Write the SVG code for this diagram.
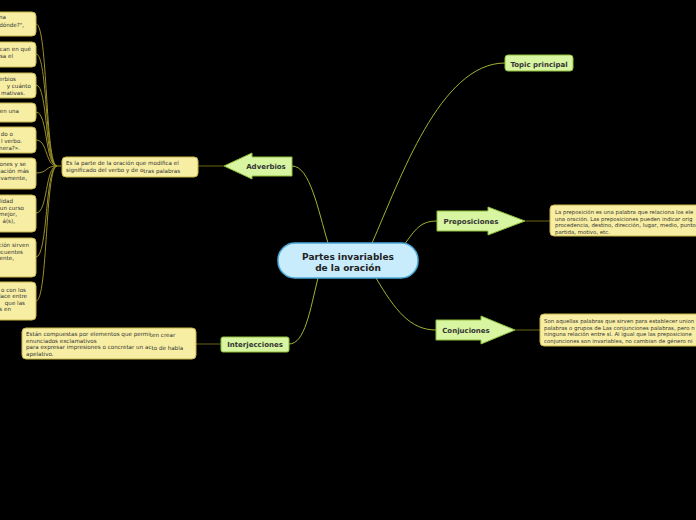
<svg xmlns="http://www.w3.org/2000/svg" width="696" height="520" viewBox="0 0 696 520">
<style>
.bg{fill:#000}
.main{fill:#c8ecfc;stroke:#4aa8d8;stroke-width:1.5}
.topic{fill:#d8f5a2;stroke:#8ebd3c;stroke-width:1}
.note{fill:#f7eea3;stroke:#c5b448;stroke-width:1}
.c1{fill:none;stroke:#a4b232;stroke-width:1}
.c2{fill:none;stroke:#6a6414;stroke-width:1}
.c3{fill:none;stroke:#9a9028;stroke-width:1}
.tm{font-family:"DejaVu Sans",Verdana,sans-serif;font-weight:bold;font-size:9px;fill:#222;text-anchor:middle}
.tt{font-family:"DejaVu Sans",Verdana,sans-serif;font-weight:bold;font-size:7px;fill:#333;text-anchor:middle}
.tn{font-family:"DejaVu Sans",Verdana,sans-serif;font-size:5.6px;fill:#333}
.tr{font-family:"DejaVu Sans",Verdana,sans-serif;font-size:5.4px;fill:#333}
.te{font-family:"DejaVu Sans",Verdana,sans-serif;font-size:5.6px;fill:#333;text-anchor:end}
</style>
<rect class="bg" x="0" y="0" width="696" height="520"/>
<g id="connectors">
<path class="c1" d="M372,243 C400,180 440,63 505,63"/>
<path class="c1" d="M404,245 C415,230 420,221 437,221"/>
<path class="c1" d="M376,278 C395,310 410,330 436,330"/>
<path class="c1" d="M328,243 C318,210 310,166 292,166"/>
<path class="c1" d="M318,278 C310,310 305,344 289,344"/>
<path class="c2" d="M224,166 L198,166"/>
<path class="c2" d="M525,221 L550,221"/>
<path class="c2" d="M515,330 L540,330"/>
<path class="c2" d="M221,344 L196,344"/>
<path class="c3" d="M61,166 L57,166"/>
<path class="c3" d="M57,166 C45,166 48,24 36,24"/>
<path class="c3" d="M57,166 C45,166 48,54 36,54"/>
<path class="c3" d="M57,166 C45,166 48,85 36,85"/>
<path class="c3" d="M57,166 C45,166 48,112 36,112"/>
<path class="c3" d="M57,166 C45,166 48,140 36,140"/>
<path class="c3" d="M57,166 C45,166 48,173 36,173"/>
<path class="c3" d="M57,166 C45,166 48,213 36,213"/>
<path class="c3" d="M57,166 C45,166 48,257 36,257"/>
<path class="c3" d="M57,166 C45,166 48,301 36,301"/>
</g>
<g id="main">
<rect class="main" x="278" y="243" width="140" height="35" rx="17"/>
<text class="tm" x="348" y="259.5">Partes invariables</text>
<text class="tm" x="348" y="270.5">de la oración</text>
</g>
<g id="topic-principal">
<rect class="topic" x="505" y="55" width="68" height="16" rx="3"/>
<text class="tt" x="539" y="66.5">Topic principal</text>
</g>
<g id="preposiciones">
<polygon class="topic" points="437,211 488,211 488,207 525,221 488,235 488,231 437,231"/>
<text class="tt" x="471" y="224">Preposiciones</text>
</g>
<g id="conjuciones">
<polygon class="topic" points="436,320 481,320 481,316 515,330 481,344 481,340 436,340"/>
<text class="tt" x="466" y="333">Conjuciones</text>
</g>
<g id="adverbios">
<polygon class="topic" points="224,166 252,153 252,157 292,157 292,176 252,176 252,179"/>
<text class="tt" x="266" y="169">Adverbios</text>
</g>
<g id="interjecciones">
<rect class="topic" x="221" y="337" width="68" height="15" rx="2"/>
<text class="tt" x="255" y="347">Interjecciones</text>
</g>
<g id="note-preposiciones">
<rect class="note" x="550" y="205" width="160" height="31" rx="4"/>
<text class="tr" x="555" y="214">La preposición es una palabra que relaciona los ele</text>
<text class="tr" x="555" y="220.5">una oración. Las preposiciones pueden indicar orig</text>
<text class="tr" x="555" y="227">procedencia, destino, dirección, lugar, medio, punto</text>
<text class="tr" x="555" y="233.5">partida, motivo, etc.</text>
</g>
<g id="note-conjuciones">
<rect class="note" x="540" y="314" width="170" height="32" rx="4"/>
<text class="tr" x="544" y="323">Son aquellas palabras que sirven para establecer union</text>
<text class="tr" x="544" y="329.5">palabras o grupos de Las conjunciones palabras, pero n</text>
<text class="tr" x="544" y="336">ninguna relación entre sí. Al igual que las preposicione</text>
<text class="tr" x="544" y="342.5">conjunciones son invariables, no cambian de género ni</text>
</g>
<g id="note-adverbios">
<rect class="note" x="62" y="157" width="136" height="20" rx="4"/>
<text class="tn" x="66" y="165">Es la parte de la oración que modifica el</text>
<text class="tn" x="66" y="172">significado del verbo y de o<tspan dy="1">tras palabras</tspan></text>
</g>
<g id="note-interjecciones">
<rect class="note" x="22" y="328" width="174" height="31" rx="4"/>
<text class="tn" x="26" y="336">Están compuestas por elementos que permi<tspan dy="1">ten crear</tspan></text>
<text class="tn" x="26" y="342.5">enunciados exclamativos</text>
<text class="tn" x="26" y="349"> para expresar impresiones o concretar un ac<tspan dy="1">to de habla</tspan></text>
<text class="tn" x="26" y="355.5">apelativo.</text>
</g>
<g id="note-left-1">
<rect class="note" x="-10" y="12" width="46" height="24" rx="4"/>
<text class="te" x="6" y="19">na</text>
<text class="te" x="24" y="26.5">dónde?",</text>
</g>
<g id="note-left-2">
<rect class="note" x="-10" y="42" width="46" height="25" rx="4"/>
<text class="te" x="31" y="50.5">can en qué</text>
<text class="te" x="13" y="57.5">sa el</text>
</g>
<g id="note-left-3">
<rect class="note" x="-10" y="73" width="46" height="25" rx="4"/>
<text class="te" x="16" y="81">erbios</text>
<text class="te" x="31" y="88">y cuánto</text>
<text class="te" x="25" y="94.5">mativas.</text>
</g>
<g id="note-left-4">
<rect class="note" x="-10" y="103" width="46" height="19" rx="4"/>
<text class="te" x="19" y="112.5">en una</text>
</g>
<g id="note-left-5">
<rect class="note" x="-10" y="127" width="46" height="26" rx="4"/>
<text class="te" x="13" y="135.5">do o</text>
<text class="te" x="22" y="142.5">l verbo.</text>
<text class="te" x="20" y="149.5">nera?».</text>
</g>
<g id="note-left-6">
<rect class="note" x="-10" y="158" width="46" height="31" rx="4"/>
<text class="te" x="26" y="166">ones y se</text>
<text class="te" x="29" y="173">gación más</text>
<text class="te" x="27" y="180">ivamente,</text>
</g>
<g id="note-left-7">
<rect class="note" x="-10" y="195" width="46" height="37" rx="4"/>
<text class="te" x="13" y="203">lidad</text>
<text class="te" x="24" y="209.5">un curso</text>
<text class="te" x="17" y="216">mejor,</text>
<text class="te" x="15" y="222.5">á(s),</text>
</g>
<g id="note-left-8">
<rect class="note" x="-10" y="238" width="46" height="39" rx="4"/>
<text class="te" x="29" y="247">ción sirven</text>
<text class="te" x="23" y="253.5">ecuentes</text>
<text class="te" x="14" y="260">ente,</text>
</g>
<g id="note-left-9">
<rect class="note" x="-10" y="282" width="46" height="38" rx="4"/>
<text class="te" x="26" y="291.5">o con los</text>
<text class="te" x="27" y="298">lace entre</text>
<text class="te" x="25" y="304.5">que las</text>
<text class="te" x="11" y="311">s en</text>
</g>
</svg>
